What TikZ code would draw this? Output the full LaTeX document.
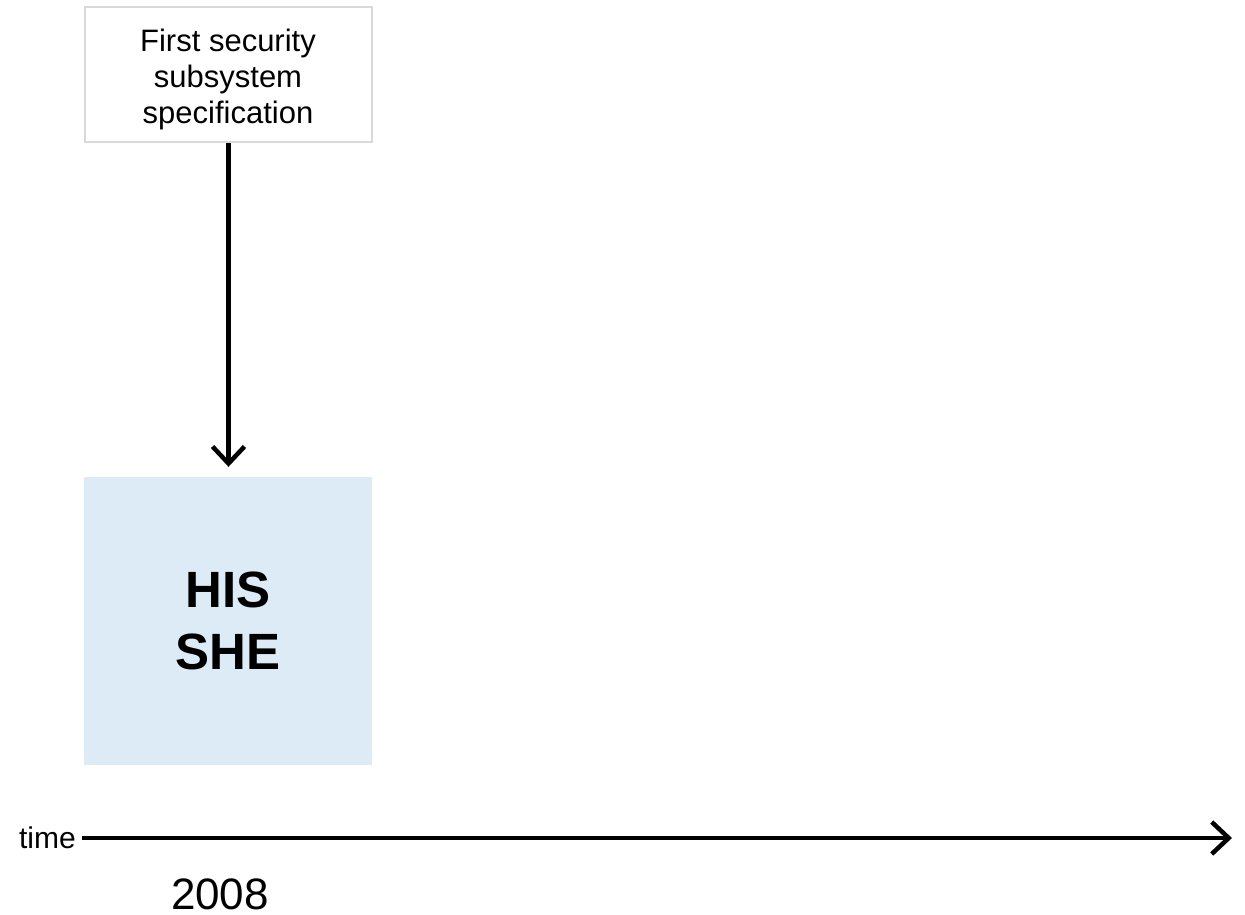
\documentclass[tikz,border=0pt]{standalone}
\usepackage{fontspec}
\setmainfont{Liberation Sans}
\usetikzlibrary{arrows.meta}
\definecolor{boxgray}{HTML}{D9D9D9}
\definecolor{hisblue}{HTML}{DDEBF7}
\begin{document}
\begin{tikzpicture}[x=1pt,y=-1pt,
  specbox/.style={draw=boxgray,line width=2pt,fill=white,minimum width=287pt,minimum height=135pt,inner sep=0pt},
  spectext/.style={align=center,inner sep=0pt,font=\fontsize{31}{36}\selectfont},
  hisbox/.style={fill=hisblue,minimum width=288pt,minimum height=288pt,align=center,inner sep=0pt,
    font=\fontsize{51}{62}\selectfont\bfseries},
  flow/.style={line width=4.5pt,-{Straight Barb[length=17pt,width=32pt,line width=4.5pt]}}]
\useasboundingbox (0,0) rectangle (1245,915);
% specification box and its caption
\node[specbox] (spec) at (228,74.5) {};
\node[spectext,yshift=-5pt] (spectxt) at (spec.center) {First security\\subsystem\\specification};
% HIS / SHE block
\node[hisbox] (his) at (228,621) {HIS\\SHE};
\draw[flow,shorten >=10pt] (spec.south -| 228.5,0) -- (his.north -| 228.5,0);
% time axis
\node[anchor=base east,inner sep=0pt,font=\fontsize{30}{34}\selectfont] (time) at (76,848) {time};
\coordinate (tstart) at (82,838);
\coordinate (tend) at (1232,838);
\draw[flow] (tstart) -- (tend);
\node[anchor=base,inner sep=0pt,font=\fontsize{44}{50}\selectfont] (year) at (220,909) {2008};
\end{tikzpicture}
\end{document}
